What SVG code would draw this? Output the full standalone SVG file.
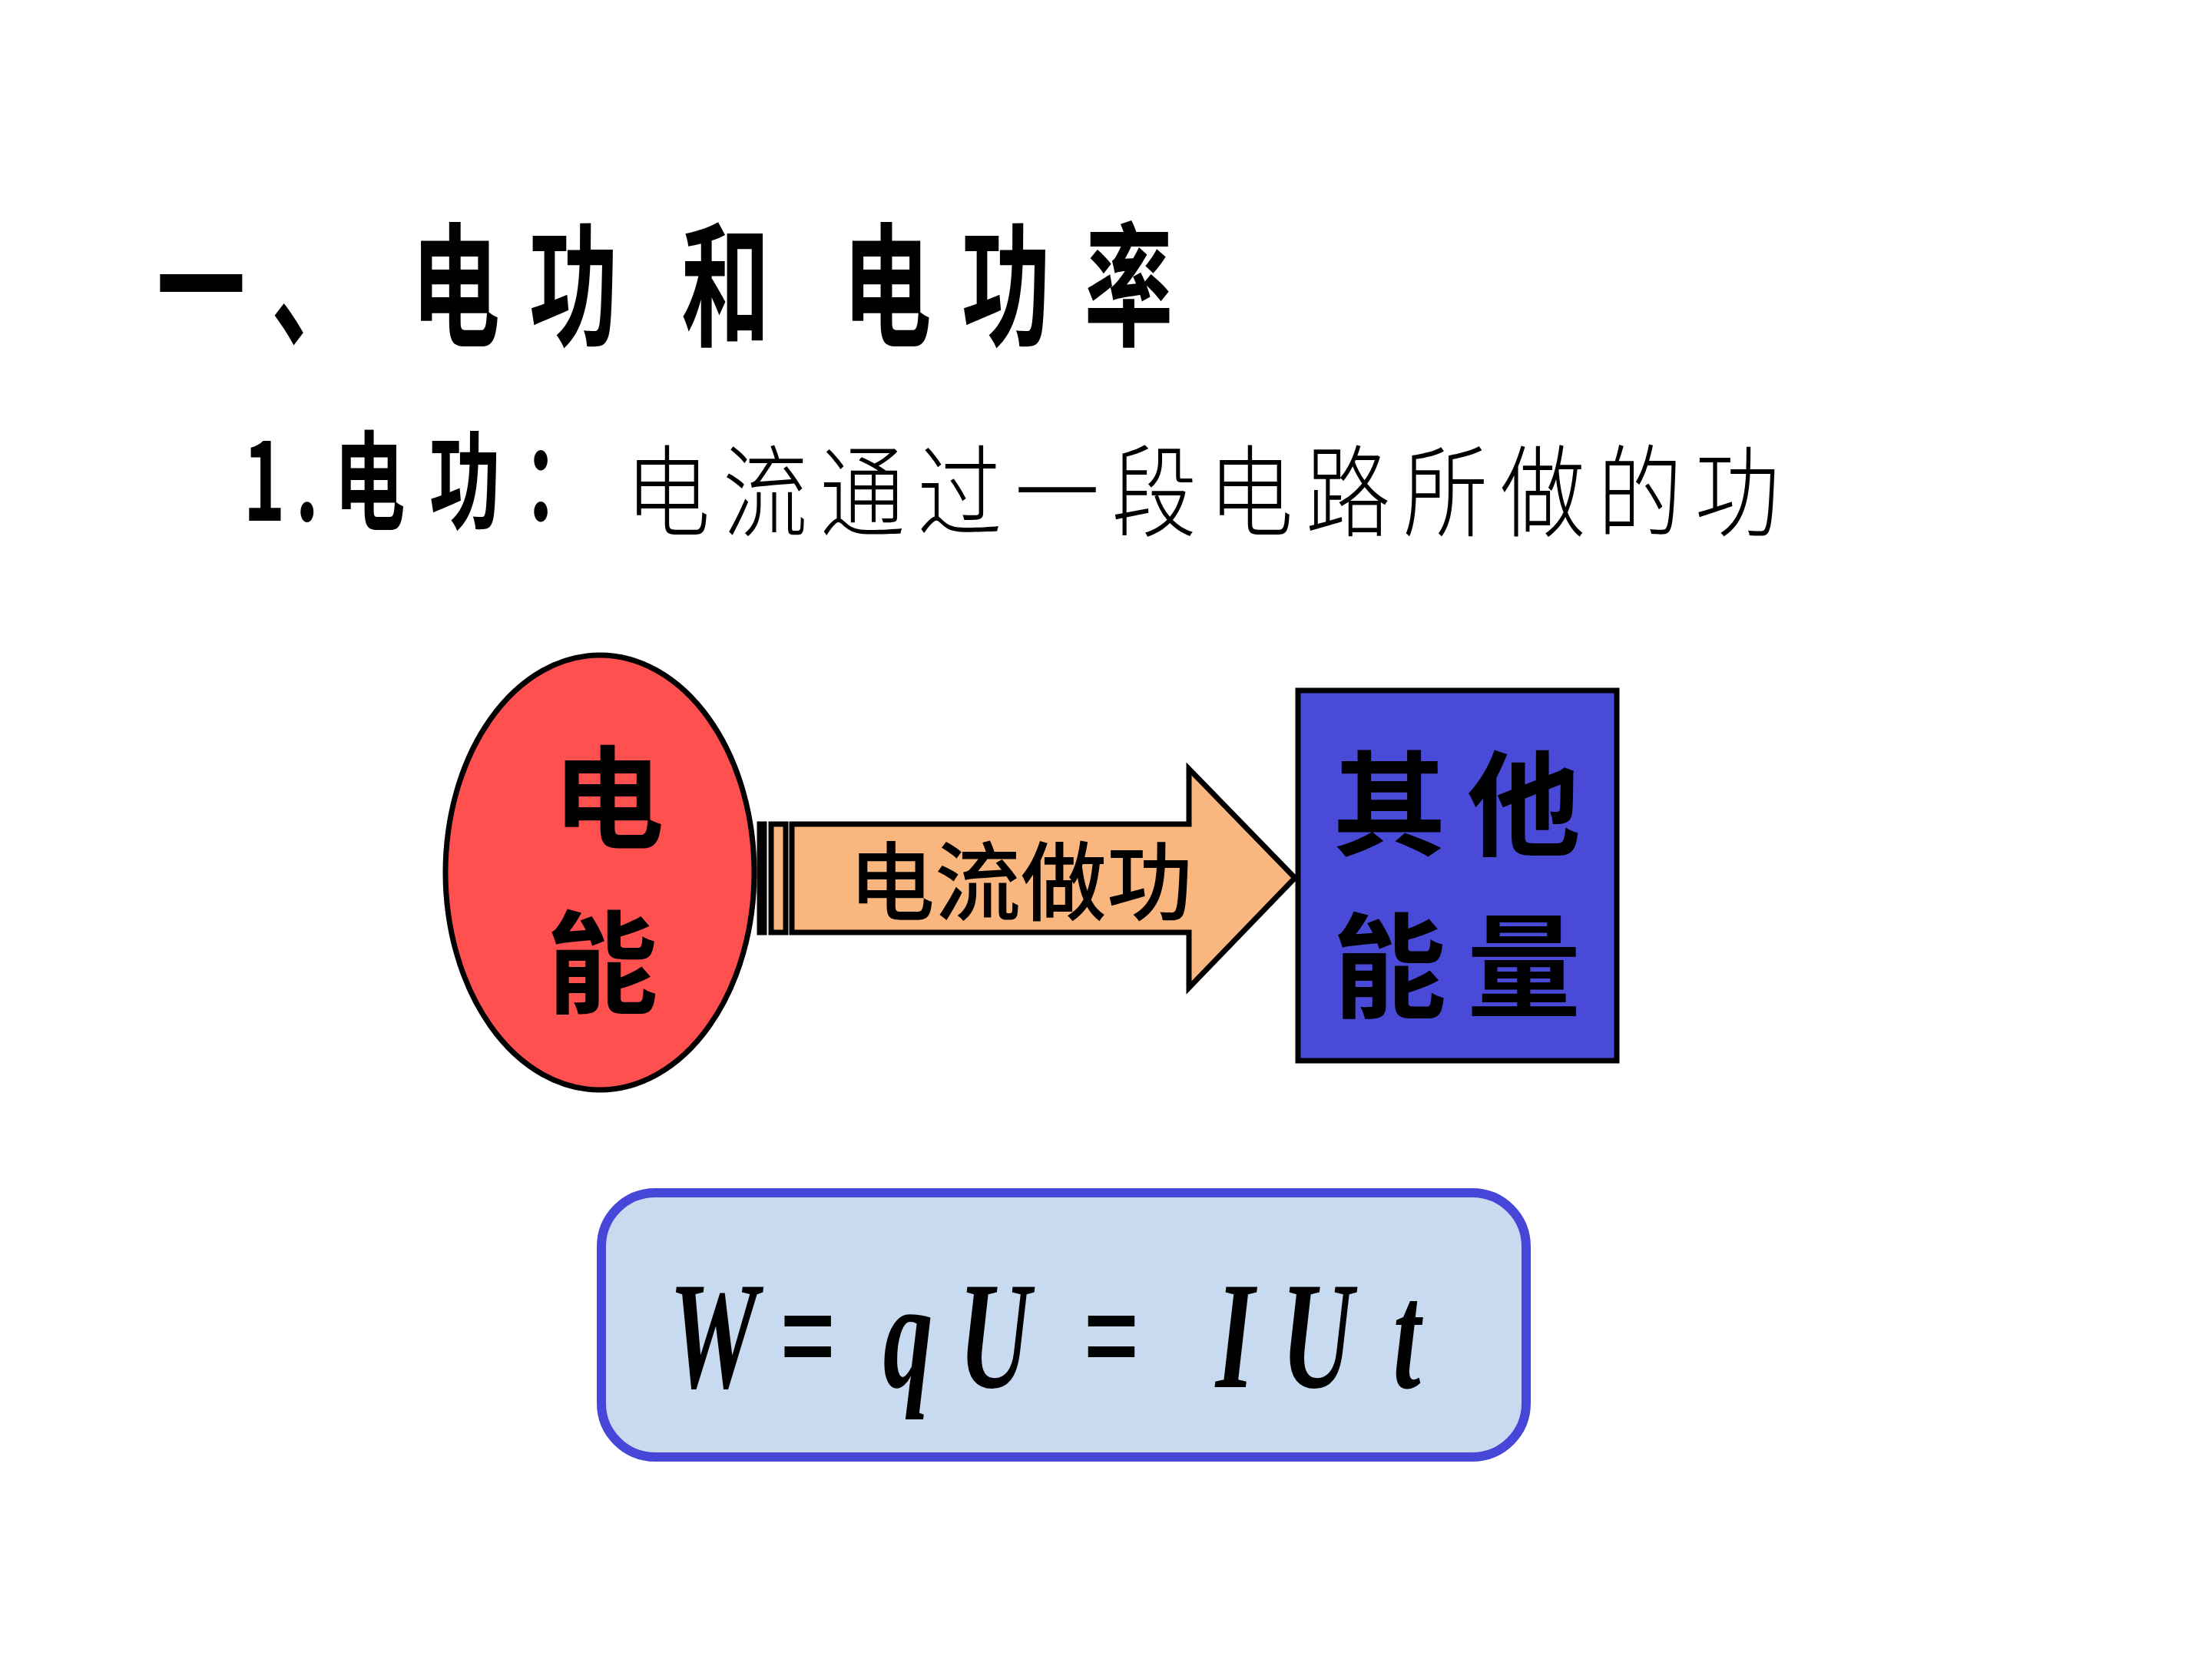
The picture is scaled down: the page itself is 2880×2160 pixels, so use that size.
<svg xmlns="http://www.w3.org/2000/svg" width="2880" height="2160" viewBox="0 0 2880 2160">
<style>
.cjkb{font-family:"Noto Sans CJK SC","Noto Sans CJK TC",sans-serif;font-weight:bold;fill:#000}
.cjkr{font-family:"Noto Sans CJK SC","Noto Sans CJK TC",sans-serif;font-weight:300;fill:#000}
.ln{stroke:#000;stroke-width:7;stroke-linejoin:miter}
.formula{font-family:"Liberation Serif","Times New Roman",serif;font-style:italic;font-weight:bold;fill:#000}
</style>
<rect x="0" y="0" width="2880" height="2160" fill="#fff"/>
<g id="title">
<text class="cjkb" font-size="175" transform="translate(0,437) scale(0.66,1)" x="309 535 811 1044 1344 1662 1897 2139" y="0">一、电功和电功率</text>
</g>
<g id="subtitle">
<text class="cjkb" font-size="140" transform="translate(0,678) scale(0.66,1)" x="480 583 659 847 1032" y="0">1.电功：</text>
<text class="cjkr" font-size="130" transform="translate(0,688) scale(0.85,1)" x="958 1107 1256 1405 1554 1703 1851 2000 2149 2298 2447 2596" y="0">电流通过一段电路所做的功</text>
</g>
<g id="node-electric-energy">
<ellipse class="ln" cx="781" cy="1136" rx="201" ry="283" fill="#FF5050"/>
<text class="cjkb" font-size="145" text-anchor="middle" x="792" y="1093">电</text>
<text class="cjkb" font-size="145" text-anchor="middle" x="784" y="1308">能</text>
</g>
<g id="node-other-energy">
<rect class="ln" x="1690" y="899" width="415" height="482" fill="#4A4AD8"/>
<text class="cjkb" font-size="148" text-anchor="middle" x="1809" y="1102">其</text>
<text class="cjkb" font-size="148" text-anchor="middle" x="1984" y="1102">他</text>
<text class="cjkb" font-size="148" text-anchor="middle" x="1809" y="1313">能</text>
<text class="cjkb" font-size="148" text-anchor="middle" x="1984" y="1313">量</text>
</g>
<g id="connectors">
<rect class="ln" x="989" y="1073" width="6" height="141" fill="#F9B77F"/>
<rect class="ln" x="1004" y="1073" width="19" height="141" fill="#F9B77F"/>
<path class="ln" d="M1031,1073 L1548,1073 L1548,1001 L1686,1143 L1548,1286 L1548,1214 L1031,1214 Z" fill="#F9B77F"/>
<text class="cjkr" style="font-weight:500" font-size="112" text-anchor="middle" x="1329" y="1190">电流做功</text>
</g>
<g id="node-formula">
<rect x="783" y="1553" width="1204" height="344" rx="70" ry="70" fill="#C8DAF0" stroke="#4646D8" stroke-width="12"/>
<text class="formula" font-size="200" transform="translate(0,1806) scale(0.65,1)" y="0"><tspan x="1340">W</tspan><tspan x="1560">=</tspan><tspan x="1769">q</tspan><tspan x="1920">U</tspan><tspan x="2168">=</tspan><tspan x="2435">I</tspan><tspan x="2566">U</tspan><tspan x="2790">t</tspan></text>
</g>
</svg>
